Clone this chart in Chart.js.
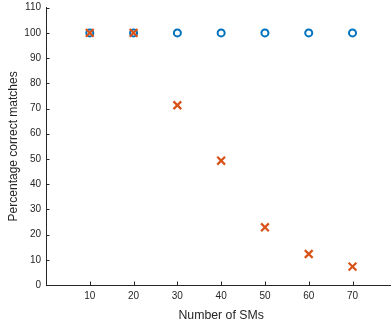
<!DOCTYPE html>
<html>
<head>
<meta charset="utf-8">
<script src="https://cdn.jsdelivr.net/npm/chart.js@4"></script>
<style>
  html, body { margin: 0; padding: 0; background: #fff; overflow: hidden; }
  #wrap { width: 404px; height: 324px; }
</style>
</head>
<body>
<div id="wrap"><canvas id="myChart" width="404" height="324"></canvas></div>
<script>
  const sms = [10, 20, 30, 40, 50, 60, 70];
  const matchesCircle = [100, 100, 100, 100, 100, 100, 100];
  const matchesCross = [100, 100, 71.3, 49.3, 22.9, 12.3, 7.3];
  const yTicks = [0, 10, 20, 30, 40, 50, 60, 70, 80, 90, 100, 110];

  const axisColor = "#262626";

  // MATLAB style ticks pointing into the plot
  const inwardTicks = {
    id: "inwardTicks",
    afterDraw(chart) {
      const ctx = chart.ctx;
      const area = chart.chartArea;
      const xs = chart.scales.x;
      const ys = chart.scales.y;
      ctx.save();
      ctx.strokeStyle = axisColor;
      ctx.lineWidth = 1;
      ctx.beginPath();
      sms.forEach((v) => {
        const px = Math.round(xs.getPixelForValue(v)) + 0.5;
        ctx.moveTo(px, area.bottom);
        ctx.lineTo(px, area.bottom - 3.5);
      });
      yTicks.forEach((v) => {
        const py = Math.round(ys.getPixelForValue(v)) + 0.5;
        ctx.moveTo(area.left, py);
        ctx.lineTo(area.left + 3.5, py);
      });
      ctx.stroke();
      ctx.restore();
    },
  };

  function generateChart() {
    const info = {
      datasets: [
        {
          data: sms.map((x, i) => ({ x, y: matchesCircle[i] })),
          pointStyle: "circle",
          pointRadius: 3.5,
          pointBorderWidth: 2,
          borderColor: "#0072BD",
          backgroundColor: "rgba(0,0,0,0)",
          order: 1,
        },
        {
          data: sms.map((x, i) => ({ x, y: matchesCross[i] })),
          pointStyle: "crossRot",
          pointRadius: 5.5,
          pointBorderWidth: 2.2,
          borderColor: "#D95319",
          backgroundColor: "#D95319",
          order: 0,
        },
      ],
    };
    const options = {
      responsive: false,
      animation: false,
      layout: { padding: { top: 7, right: 0, left: 0, bottom: 0 } },
      scales: {
        x: {
          type: "linear",
          min: 0,
          max: 80,
          afterBuildTicks: (s) => { s.ticks = sms.map((v) => ({ value: v })); },
          afterFit: (s) => { s.height = 39; s.paddingLeft = 0; s.paddingRight = 0; },
          ticks: { color: axisColor, font: { family: "Liberation Sans", size: 10 }, padding: 5 },
          grid: { display: true, drawOnChartArea: false, drawTicks: false, color: axisColor },
          border: { display: true, color: axisColor, width: 1 },
          title: {
            display: true,
            text: "Number of SMs",
            color: axisColor,
            font: { family: "Liberation Sans", size: 12.3 },
            padding: { top: 0, bottom: 1 },
          },
        },
        y: {
          min: 0,
          max: 110,
          afterBuildTicks: (s) => { s.ticks = yTicks.map((v) => ({ value: v })); },
          afterFit: (s) => { s.width = 46; s.paddingTop = 0; s.paddingBottom = 0; },
          ticks: { color: axisColor, font: { family: "Liberation Sans", size: 10 }, padding: 5 },
          grid: { display: true, drawOnChartArea: false, drawTicks: false, color: axisColor },
          border: { display: true, color: axisColor, width: 1 },
          title: {
            display: true,
            text: "Percentage correct matches",
            color: axisColor,
            font: { family: "Liberation Sans", size: 12 },
            padding: { top: 6, bottom: 0 },
          },
        },
      },
      plugins: {
        legend: { display: false },
        tooltip: { enabled: false },
      },
    };
    new Chart(document.getElementById("myChart"), {
      type: "scatter",
      data: info,
      options,
      plugins: [inwardTicks],
    });
  }
  generateChart();
</script>
</body>
</html>
